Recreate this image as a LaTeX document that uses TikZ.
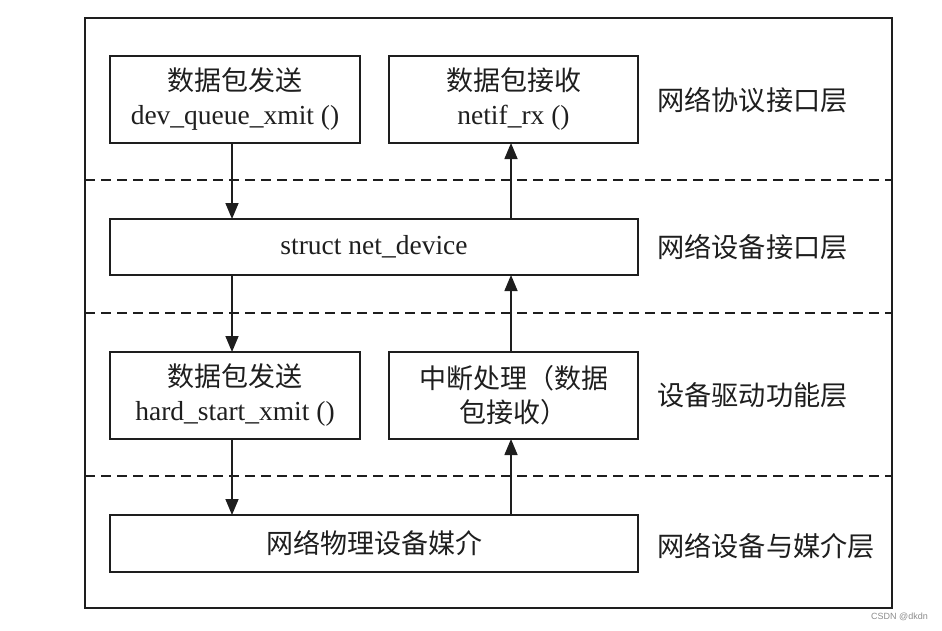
\documentclass[tikz,border=0pt]{standalone}
\usepackage{fontspec}
\setmainfont{Liberation Serif}
\newfontfamily\cjk{Noto Sans CJK SC}
\setsansfont{Liberation Sans}
\usetikzlibrary{arrows.meta}
\definecolor{ink}{HTML}{1E1E1E}
\tikzset{
  box/.style={draw=ink, line width=1.6pt, anchor=north west, inner sep=0pt, outer sep=0pt,
    align=center, text=ink, font=\fontsize{27.5}{34}\selectfont},
  cjkbox/.style={box, font=\cjk\fontsize{27}{34}\selectfont},
  layer/.style={anchor=west, inner sep=0pt, text=ink, font=\cjk\fontsize{27.2}{30}\selectfont},
  sep/.style={draw=ink, line width=1.6pt, dash pattern=on 10pt off 6pt},
  flow/.style={draw=ink, line width=1.6pt, -{Triangle[length=16pt,width=13pt]}}
}
\newcommand{\zh}[1]{{\cjk\fontsize{27}{34}\selectfont #1}}
\begin{document}
\begin{tikzpicture}[x=1pt,y=-1pt]
\useasboundingbox (0,0) rectangle (942,630);
\draw[ink, line width=1.8pt] (85,18) rectangle (892,608);
\draw[sep] (85,180) -- (892,180);
\draw[sep] (85,313) -- (892,313);
\draw[sep] (85,476) -- (892,476);
\node[box, minimum width=250pt, minimum height=87pt] (send1) at (110,56)
  {\zh{数据包发送}\\dev\_queue\_xmit ()};
\node[box, minimum width=249pt, minimum height=87pt] (recv1) at (389,56)
  {\zh{数据包接收}\\netif\_rx ()};
\node[box, minimum width=528pt, minimum height=56pt] (netdev) at (110,219)
  {struct net\_device};
\node[box, minimum width=250pt, minimum height=87pt] (send2) at (110,352)
  {\zh{数据包发送}\\hard\_start\_xmit ()};
\node[cjkbox, minimum width=249pt, minimum height=87pt] (irq) at (389,352)
  {中断处理（数据\\包接收）};
\node[cjkbox, minimum width=528pt, minimum height=57pt] (phy) at (110,515)
  {网络物理设备媒介};
\node[layer] (l1) at (657,100) {网络协议接口层};
\node[layer] (l2) at (657,247) {网络设备接口层};
\node[layer] (l3) at (657,395) {设备驱动功能层};
\node[layer] (l4) at (657,546) {网络设备与媒介层};
\coordinate (a1) at (232,0);
\coordinate (a2) at (511,0);
\draw[flow] (send1.south -| a1) -- (netdev.north -| a1);
\draw[flow] (netdev.south -| a1) -- (send2.north -| a1);
\draw[flow] (send2.south -| a1) -- (phy.north -| a1);
\draw[flow] (phy.north -| a2) -- (irq.south -| a2);
\draw[flow] (irq.north -| a2) -- (netdev.south -| a2);
\draw[flow] (netdev.north -| a2) -- (recv1.south -| a2);
\node[anchor=east, inner sep=0pt, text=black!45, font=\sffamily\fontsize{9}{10}\selectfont] (wm) at (928,617) {CSDN @dkdn};
\end{tikzpicture}
\end{document}
